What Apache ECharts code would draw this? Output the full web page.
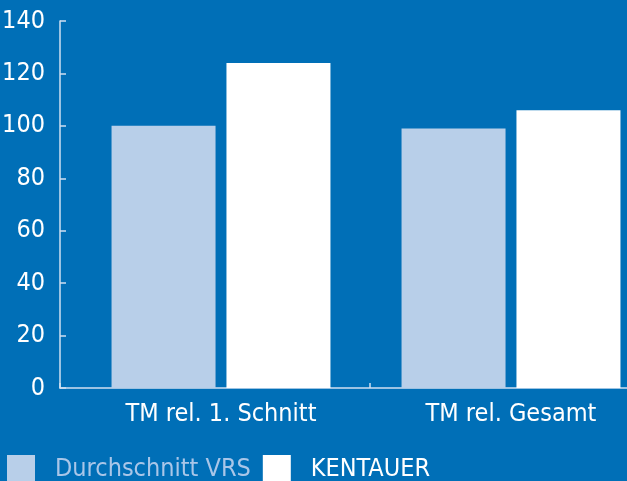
<!DOCTYPE html>
<html>
<head>
<meta charset="utf-8">
<script src="https://cdn.jsdelivr.net/npm/echarts@6/dist/echarts.min.js"></script>
<style>
  html, body { margin: 0; padding: 0; background: #006fb7; }
  #chart { width: 627px; height: 481px; }
</style>
</head>
<body>
<div id="chart"></div>
<script>
// Daten
var categories = ['TM rel. 1. Schnitt', 'TM rel. Gesamt'];
var seriesNames = ['Durchschnitt VRS', 'KENTAUER'];
var vrsValues = [100, 99];
var kentauerValues = [124, 106];

var bg = '#006fb7';
var lightBlue = '#b8cfe9';
var axisColor = '#cfe0f2';
var font = '"Liberation Sans Narrow", "DejaVu Sans Condensed", sans-serif';

var chart = echarts.init(document.getElementById('chart'), null, { renderer: 'canvas' });

var option = {
  backgroundColor: bg,
  animation: false,
  textStyle: { fontFamily: font },
  legend: {
    left: 2,
    top: 450,
    itemWidth: 28,
    itemHeight: 28,
    itemGap: 12,
    icon: 'rect',
    data: [
      { name: seriesNames[0], textStyle: { color: '#a9c6e8' } },
      { name: seriesNames[1], textStyle: { color: '#ffffff' } }
    ],
    textStyle: { fontSize: 25, fontFamily: font, padding: [0, 0, 0, 15] }
  },
  grid: [
    { left: 76, right: -29, top: 21, bottom: 93, outerBoundsMode: 'none', containLabel: false },
    { left: 60, right: -10, top: 21, bottom: 93, outerBoundsMode: 'none', containLabel: false }
  ],
  xAxis: [
    {
      type: 'category',
      gridIndex: 0,
      data: categories,
      axisLine: { show: false },
      axisTick: { show: false },
      axisLabel: { color: '#ffffff', fontSize: 25, fontFamily: font, margin: 14 }
    },
    {
      // Achsenlinie ab der y-Achse, Trennstrich zwischen den Gruppen
      type: 'value',
      gridIndex: 1,
      min: 0,
      max: 577,
      interval: 310,
      axisLine: { show: true, lineStyle: { color: axisColor, width: 1.5 } },
      axisTick: { show: true, inside: true, length: 5, lineStyle: { color: axisColor, width: 1.5 } },
      axisLabel: { show: false },
      splitLine: { show: false }
    }
  ],
  yAxis: [
    {
      type: 'value',
      gridIndex: 0,
      min: 0,
      max: 140,
      interval: 20,
      offset: 16,
      axisLine: { show: true, lineStyle: { color: axisColor, width: 1.5 } },
      axisTick: { show: true, inside: true, length: 6, lineStyle: { color: axisColor, width: 1.5 } },
      axisLabel: { color: '#ffffff', fontSize: 25, fontFamily: font, margin: 15 },
      splitLine: { show: false }
    },
    {
      type: 'value',
      gridIndex: 1,
      show: false
    }
  ],
  series: [
    {
      name: seriesNames[0],
      type: 'bar',
      xAxisIndex: 0,
      yAxisIndex: 0,
      data: vrsValues,
      barWidth: 104,
      barGap: '10.5%',
      itemStyle: { color: lightBlue }
    },
    {
      name: seriesNames[1],
      type: 'bar',
      xAxisIndex: 0,
      yAxisIndex: 0,
      data: kentauerValues,
      barWidth: 104,
      barGap: '10.5%',
      itemStyle: { color: '#ffffff' }
    }
  ]
};

chart.setOption(option);
</script>
</body>
</html>
